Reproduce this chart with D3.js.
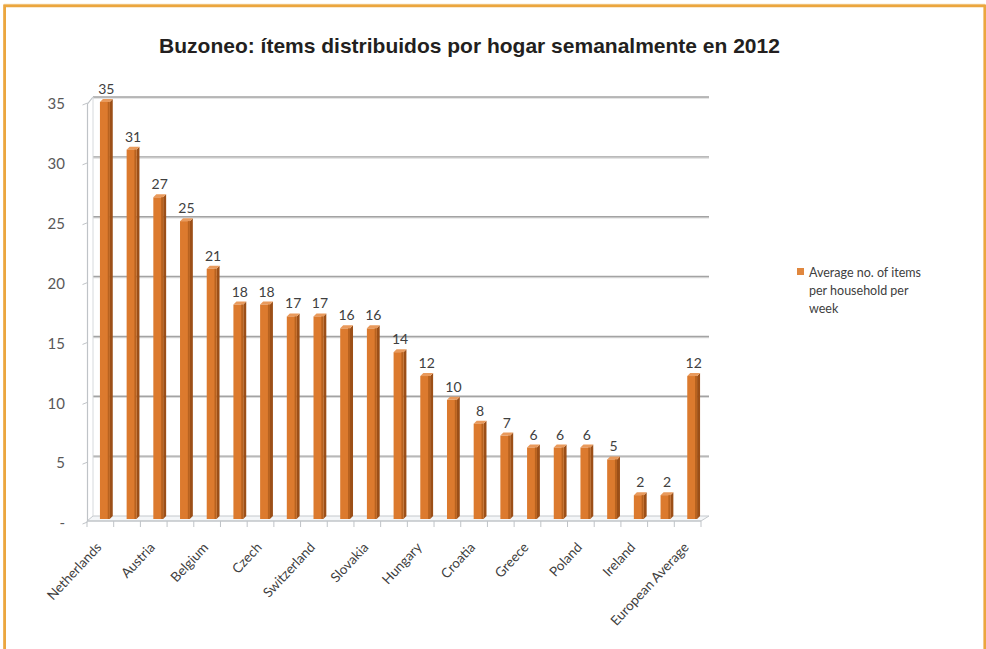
<!DOCTYPE html>
<html>
<head>
<meta charset="utf-8">
<script src="https://cdn.jsdelivr.net/npm/d3@7"></script>
<style>
  html, body { margin: 0; padding: 0; background: #ffffff; }
  svg { display: block; }
</style>
</head>
<body>
<svg id="chart" width="986" height="649"></svg>
<script>
// Unaddressed mail: average items delivered per household per week, 2012
const categories = [
  "Netherlands", "c2", "Austria", "c4", "Belgium", "c6", "Czech", "c8",
  "Switzerland", "c10", "Slovakia", "c12", "Hungary", "c14", "Croatia", "c16",
  "Greece", "c18", "Poland", "c20", "Ireland", "c22", "European Average"
];
const values = [35, 31, 27, 25, 21, 18, 18, 17, 17, 16, 16, 14, 12, 10, 8, 7, 6, 6, 6, 5, 2, 2, 12];
const yTicks = [0, 5, 10, 15, 20, 25, 30, 35];
const yTickLabels = ["-", "5", "10", "15", "20", "25", "30", "35"];
const titleText = "Buzoneo: ítems distribuidos por hogar semanalmente en 2012";
const legendLines = ["Average no. of items", "per household per", "week"];

const svg = d3.select("#chart");
const W = 986, H = 649;
const chartFont = "Lato, 'Open Sans', sans-serif";

// frame
svg.append("path")
  .attr("d", `M4.5,${H} V4.5 H${W - 1}`)
  .attr("fill", "none").attr("stroke", "#f4dcae").attr("stroke-width", 1.5);
svg.append("path")
  .attr("d", `M4.6,${H} V5.8 H984.8 V${H}`)
  .attr("fill", "none").attr("stroke", "#eba63f").attr("stroke-width", 2.8);

// title
svg.append("text")
  .attr("x", 469.5).attr("y", 53)
  .attr("text-anchor", "middle")
  .attr("font-family", "'Liberation Sans', Arial, Helvetica, sans-serif")
  .attr("font-weight", "bold").attr("font-size", 21)
  .attr("fill", "#231f20")
  .text(titleText);

// 3D geometry: back wall, front plane and bar plane
const depth = { dx: 6, dy: 7 };
const yBack = d3.scaleLinear().domain([0, 35]).range([516, 97]);
const yFront = v => yBack(v) + depth.dy;
const yBar = d3.scaleLinear().domain([0, 35]).range([519, 102]);

const xFront = d3.scaleBand().domain(categories).range([87, 701]);
const xBar = d3.scaleBand().domain(categories).range([93, 707])
  .paddingInner(0.52).paddingOuter(0.26);
const backX0 = 93, backX1 = 709;

// floor
svg.append("path")
  .attr("d", `M${backX0},${yBack(0)} H${backX1} L${xFront.range()[1]},${yFront(0) - 2} H${xFront.range()[0]} Z`)
  .attr("fill", "#f4f6f8").attr("stroke", "#c4c8cc").attr("stroke-width", 1);

// gridlines on the back wall
const grid = svg.append("g");
yTicks.filter(v => v > 0).forEach(v => {
  grid.append("line")
    .attr("x1", backX0).attr("x2", backX1)
    .attr("y1", yBack(v) + 1.2).attr("y2", yBack(v) + 1.2)
    .attr("stroke", "#dcdcdc").attr("stroke-width", 1.2);
  grid.append("line")
    .attr("x1", backX0).attr("x2", backX1)
    .attr("y1", yBack(v)).attr("y2", yBack(v))
    .attr("stroke", "#a3a3a3").attr("stroke-width", 1.4);
});

// value axis (front edge of the left wall)
const axisX = 87.5;
svg.append("path")
  .attr("d", `M${axisX},${yFront(0) - 2} V${yFront(35)} L${backX0},${yBack(35)}`)
  .attr("fill", "none").attr("stroke", "#bfc3c7").attr("stroke-width", 1.2);
svg.append("line")
  .attr("x1", backX0).attr("x2", backX0)
  .attr("y1", yBack(0)).attr("y2", yBack(35))
  .attr("stroke", "#d6d9dc").attr("stroke-width", 1);

const yAxisG = svg.append("g");
yTicks.forEach((v, i) => {
  yAxisG.append("line")
    .attr("x1", axisX - 5).attr("x2", axisX)
    .attr("y1", yFront(v) + 1).attr("y2", yFront(v) - 1)
    .attr("stroke", "#bfc3c7").attr("stroke-width", 1);
  yAxisG.append("text")
    .attr("x", 65).attr("y", yFront(v))
    .attr("dy", "0.35em")
    .attr("text-anchor", "end")
    .attr("font-family", chartFont).attr("font-size", 15)
    .attr("fill", "#595959")
    .text(yTickLabels[i]);
});

// category ticks along the front of the floor
const tickXs = categories.map(c => xFront(c)).concat([xFront.range()[1]]);
svg.append("g").selectAll("line").data(tickXs).join("line")
  .attr("x1", d => d).attr("x2", d => d)
  .attr("y1", yFront(0) - 2).attr("y2", yFront(0) + 4)
  .attr("stroke", "#bfc3c7").attr("stroke-width", 1);
svg.append("line")
  .attr("x1", xFront.range()[0]).attr("x2", xFront.range()[1])
  .attr("y1", yFront(0) - 2).attr("y2", yFront(0) - 2)
  .attr("stroke", "#bfc3c7").attr("stroke-width", 1);

// bars with a front face, a shaded side and a top cap
const side = 3;
const bars = svg.append("g").selectAll("g").data(categories).join("g");
bars.each(function (c, i) {
  const g = d3.select(this);
  const x0 = xBar(c);
  const fw = xBar.bandwidth() - side;
  const yt = yBar(values[i]);
  const yb = yBar(0);
  g.append("path")
    .attr("d", `M${x0 + fw},${yt} L${x0 + fw + side},${yt - side} V${yb - side} L${x0 + fw},${yb} Z`)
    .attr("fill", "#9c4f17");
  g.append("path")
    .attr("d", `M${x0},${yt} L${x0 + side},${yt - side} H${x0 + fw + side} L${x0 + fw},${yt} Z`)
    .attr("fill", "#e99a5c");
  g.append("rect")
    .attr("x", x0).attr("y", yt)
    .attr("width", fw).attr("height", yb - yt)
    .attr("fill", "#dc7a2e");
  g.append("rect")
    .attr("x", x0 + fw - 2).attr("y", yt)
    .attr("width", 2).attr("height", yb - yt)
    .attr("fill", "#b8621f");
});

// value labels
svg.append("g").selectAll("text").data(categories).join("text")
  .attr("x", c => xBar(c) + xBar.bandwidth() / 2)
  .attr("y", (c, i) => yBar(values[i]) - 8)
  .attr("text-anchor", "middle")
  .attr("font-family", chartFont).attr("font-size", 14)
  .attr("fill", "#404040")
  .text((c, i) => values[i]);

// category labels, every second category
svg.append("g").selectAll("text")
  .data(categories.filter((c, i) => i % 2 === 0))
  .join("text")
  .attr("transform", c => `translate(${xBar(c) + xBar.bandwidth() / 2 - 4},${yFront(0) + 25}) rotate(-47)`)
  .attr("text-anchor", "end")
  .attr("font-family", chartFont).attr("font-size", 13.5)
  .attr("fill", "#404040")
  .text(c => c);

// legend
const legend = svg.append("g").attr("transform", "translate(797,268)");
legend.append("rect").attr("x", 0).attr("y", 0).attr("width", 7).attr("height", 7)
  .attr("fill", "#e0873e");
legend.selectAll("text").data(legendLines).join("text")
  .attr("x", 12).attr("y", (d, i) => 9 + i * 18)
  .attr("font-family", chartFont).attr("font-size", 12.5)
  .attr("fill", "#404040")
  .text(d => d);
</script>
</body>
</html>
